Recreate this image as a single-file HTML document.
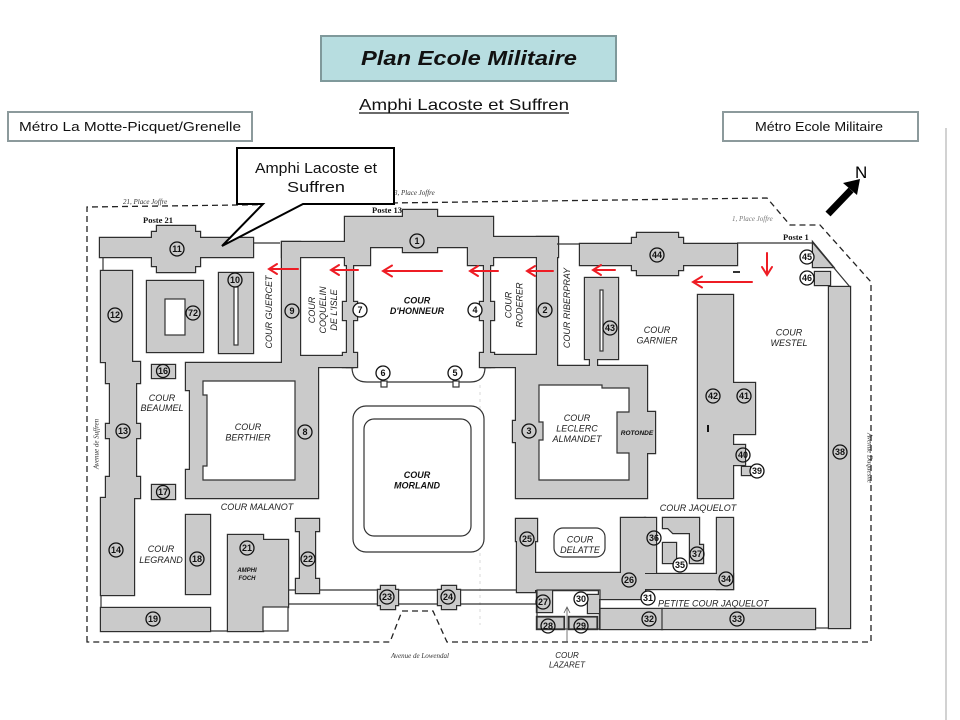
<!DOCTYPE html>
<html><head><meta charset="utf-8">
<style>
html,body{margin:0;padding:0;background:#fff;}
svg{display:block;}
.l{font-family:"Liberation Sans",sans-serif;font-style:italic;font-size:9px;fill:#1e1e1e;text-anchor:middle;}
.bi{font-family:"Liberation Sans",sans-serif;font-style:italic;font-weight:bold;font-size:9px;fill:#111;text-anchor:middle;}
.n{font-family:"Liberation Sans",sans-serif;font-weight:bold;font-size:9px;text-anchor:middle;fill:#111;}
.s{font-family:"Liberation Serif",serif;font-style:italic;font-size:7px;fill:#333;}
.p{font-family:"Liberation Serif",serif;font-weight:bold;font-size:8.5px;fill:#111;}
.ln{stroke:#333;stroke-width:1.2;fill:none;}
.ra{stroke:#ee1c24;stroke-width:2;fill:none;stroke-linecap:round;}
.c{fill:none;stroke:#111;stroke-width:1.3;}
.cw{fill:#fff;stroke:#111;stroke-width:1.3;}
</style></head><body>
<svg width="960" height="720" viewBox="0 0 960 720" xmlns="http://www.w3.org/2000/svg">
<rect width="960" height="720" fill="#fff"/>
<defs>
<g id="bl">
<polygon points="100,238 152,238 152,232 157,232 157,226 195,226 195,232 200,232 200,238 253,238 253,257 200,257 200,266 195,266 195,272 157,272 157,266 152,266 152,257 100,257"/>
<rect x="101" y="271" width="31" height="91"/>
<polygon points="106,362 140,362 140,383 136,383 136,424 140,424 140,438 136,438 136,477 140,477 140,498 106,498 106,477 110,477 110,438 106,438 106,424 110,424 110,383 106,383"/>
<rect x="101" y="498" width="33" height="97"/>
<rect x="101" y="608" width="109" height="23"/>
<rect x="147" y="281" width="56" height="71"/>
<rect x="219" y="273" width="34" height="80"/>
<rect x="152" y="365" width="23" height="13"/>
<rect x="152" y="485" width="23" height="14"/>
<rect x="186" y="515" width="24" height="79"/>
<rect x="228" y="535" width="35" height="96"/>
<rect x="263" y="540" width="25" height="67"/>
<polygon points="296,519 319,519 319,531 315,531 315,579 319,579 319,593 296,593 296,579 300,579 300,531 296,531"/>
<polygon points="381,586 395,586 395,590 398,590 398,605 395,605 395,609 381,609 381,605 378,605 378,590 381,590"/>
<polygon points="442,586 456,586 456,590 460,590 460,605 456,605 456,609 442,609 442,605 438,605 438,590 442,590"/>
<!-- Coquelin / 9 -->
<rect x="282" y="242" width="65" height="15"/>
<rect x="282" y="242" width="18" height="138"/>
<rect x="300" y="356" width="53" height="11"/>
<rect x="347" y="257" width="6" height="110"/>
<rect x="343" y="302" width="14" height="18"/>
<rect x="343" y="353" width="14" height="14"/>
<!-- Berthier -->
<polygon points="186,363 318,363 318,498 186,498 186,470 190,470 190,390 186,390"/>
<!-- Honneur top -->
<polygon points="345,217 403,217 403,210 437,210 437,217 493,217 493,265 468,265 468,247 437,247 437,252 403,252 403,247 370,247 370,265 345,265"/>
<rect x="484" y="265" width="6" height="102"/>
<rect x="480" y="302" width="14" height="18"/>
<rect x="480" y="353" width="14" height="14"/>
<!-- Roderer / 2 -->
<rect x="490" y="237" width="68" height="20"/>
<rect x="537" y="237" width="20" height="131"/>
<rect x="484" y="355" width="55" height="12"/>
<!-- Leclerc -->
<polygon points="516,366 647,366 647,412 655,412 655,453 647,453 647,498 516,498 516,442 513,442 513,421 516,421"/>
<rect x="585" y="278" width="33" height="81"/>
<rect x="590" y="358" width="7" height="9"/>
<!-- 44 -->
<polygon points="580,244 632,244 632,238 637,238 637,233 678,233 678,238 683,238 683,244 737,244 737,265 683,265 683,270 678,270 678,275 637,275 637,270 632,270 632,265 580,265"/>
<polygon points="813,243 813,267 833,267"/>
<rect x="815" y="272" width="15" height="13"/>
<rect x="698" y="295" width="35" height="203"/>
<rect x="733" y="383" width="22" height="51"/>
<rect x="733" y="445" width="12" height="20"/>
<rect x="742" y="467" width="8" height="8"/>
<rect x="829" y="287" width="21" height="341"/>
<!-- bottom right -->
<polygon points="516,519 537,519 537,541 535,541 535,573 621,573 621,518 645,518 645,590 535,590 535,592 517,592 517,541 516,541"/>
<rect x="645" y="518" width="11" height="55"/>
<polygon points="663,518 699,518 699,545 703,545 703,563 690,563 690,533 673,533 668,528 663,528"/>
<rect x="663" y="543" width="13" height="20"/>
<rect x="717" y="518" width="16" height="71"/>
<rect x="645" y="574" width="88" height="15"/>
<rect x="599" y="590" width="46" height="9"/>
<rect x="588" y="595" width="11" height="18"/>
<rect x="537" y="590" width="15" height="22"/>
<rect x="537" y="617" width="27" height="12"/>
<rect x="569" y="617" width="28" height="12"/>
<rect x="600" y="609" width="62" height="20"/>
<rect x="662" y="609" width="153" height="20"/>
</g>
</defs>

<!-- faint scan lines -->
<line x1="946" y1="128" x2="946" y2="720" stroke="#c4c4c4" stroke-width="1.5"/>
<line x1="480" y1="385" x2="480" y2="625" stroke="#d8d8d8" stroke-width="1" stroke-dasharray="3,4"/>

<!-- dashed boundary -->
<path d="M87,642 V207 L767,198 L790,225 H820 L871,282 V642 H447 L433,611 H402 L390,642 Z" fill="none" stroke="#222" stroke-width="1.3" stroke-dasharray="6,4"/>

<!-- buildings -->
<use href="#bl" fill="#2e2e2e" stroke="#2e2e2e" stroke-width="2.4"/>
<use href="#bl" fill="#cacaca" stroke="none"/>

<!-- holes -->
<rect x="165" y="299" width="20" height="36" fill="#fff" class="ln" style="fill:#fff"/>
<rect x="234" y="287" width="4" height="58" style="fill:#fff" class="ln"/>
<rect x="600" y="290" width="3" height="61" style="fill:#fff" class="ln"/>
<polygon points="203,381 295,381 295,480 203,480 203,466 207,466 207,395 203,395" style="fill:#fff" class="ln"/>
<polygon points="539,385 602,385 602,388 629,388 629,412 617,412 617,453 629,453 629,480 539,480 539,440 543,440 543,422 539,422" style="fill:#fff" class="ln"/>

<!-- lines -->
<line class="ln" x1="253" y1="243" x2="280" y2="243"/>
<line class="ln" x1="103" y1="257" x2="103" y2="271"/>
<line class="ln" x1="101" y1="595" x2="101" y2="608"/>
<line class="ln" x1="210" y1="631" x2="228" y2="631"/>
<rect class="ln" x="263" y="607" width="25" height="24" style="fill:#fff"/>
<path class="ln" d="M288,590 H296 M319,590 H378 M398,590 H438 M460,590 H517 M288,604 H378 M398,604 H438 M460,604 H537"/>
<path class="ln" d="M352,367 Q352,382 367,382 H470 Q485,382 485,367" stroke-width="1.4"/>
<rect x="381" y="381" width="6" height="6" class="ln" style="fill:#fff"/>
<rect x="453" y="381" width="6" height="6" class="ln" style="fill:#fff"/>
<line class="ln" x1="557" y1="244" x2="580" y2="244"/>
<path class="ln" d="M737,243 H813 L850,287"/>
<line class="ln" x1="815" y1="628" x2="829" y2="628"/>
<rect class="ln" x="537" y="590" width="63" height="39"/>
<rect class="ln" x="537" y="617" width="27" height="12"/>
<rect class="ln" x="569" y="617" width="28" height="12"/>
<line class="ln" x1="662" y1="609" x2="662" y2="629"/>
<rect x="707" y="425" width="2" height="7" fill="#111"/>
<rect x="733" y="271" width="7" height="2" fill="#333"/>

<!-- courtyards -->
<rect x="353" y="406" width="131" height="146" rx="13" style="fill:#fff" class="ln" stroke-width="1.3"/>
<rect x="364" y="419" width="107" height="117" rx="10" style="fill:#fff" class="ln" stroke-width="1.3"/>
<rect x="554" y="528" width="51" height="29" rx="9" style="fill:#fff" class="ln"/>

<!-- number circles -->
<g>
<circle class="c" cx="417" cy="241" r="7"/><text class="n" x="417" y="244.2">1</text>
<circle class="c" cx="545" cy="310" r="7"/><text class="n" x="545" y="313.2">2</text>
<circle class="c" cx="529" cy="431" r="7"/><text class="n" x="529" y="434.2">3</text>
<circle class="cw" cx="475" cy="310" r="7"/><text class="n" x="475" y="313.2">4</text>
<circle class="cw" cx="455" cy="373" r="7"/><text class="n" x="455" y="376.2">5</text>
<circle class="cw" cx="383" cy="373" r="7"/><text class="n" x="383" y="376.2">6</text>
<circle class="cw" cx="360" cy="310" r="7"/><text class="n" x="360" y="313.2">7</text>
<circle class="c" cx="305" cy="432" r="7"/><text class="n" x="305" y="435.2">8</text>
<circle class="c" cx="292" cy="311" r="7"/><text class="n" x="292" y="314.2">9</text>
<circle class="c" cx="235" cy="280" r="7"/><text class="n" x="235" y="283.2">10</text>
<circle class="c" cx="177" cy="249" r="7"/><text class="n" x="177" y="252.2">11</text>
<circle class="c" cx="115" cy="315" r="7"/><text class="n" x="115" y="318.2">12</text>
<circle class="c" cx="123" cy="431" r="7"/><text class="n" x="123" y="434.2">13</text>
<circle class="c" cx="116" cy="550" r="7"/><text class="n" x="116" y="553.2">14</text>
<circle class="c" cx="163" cy="371" r="6.5"/><text class="n" x="163" y="374.2">16</text>
<circle class="c" cx="163" cy="492" r="6.5"/><text class="n" x="163" y="495.2">17</text>
<circle class="c" cx="197" cy="559" r="7"/><text class="n" x="197" y="562.2">18</text>
<circle class="c" cx="153" cy="619" r="7"/><text class="n" x="153" y="622.2">19</text>
<circle class="c" cx="247" cy="548" r="7"/><text class="n" x="247" y="551.2">21</text>
<circle class="c" cx="308" cy="559" r="7"/><text class="n" x="308" y="562.2">22</text>
<circle class="c" cx="387" cy="597" r="7"/><text class="n" x="387" y="600.2">23</text>
<circle class="c" cx="448" cy="597" r="7"/><text class="n" x="448" y="600.2">24</text>
<circle class="c" cx="527" cy="539" r="7"/><text class="n" x="527" y="542.2">25</text>
<circle class="c" cx="629" cy="580" r="7"/><text class="n" x="629" y="583.2">26</text>
<circle class="c" cx="543" cy="602" r="7"/><text class="n" x="543" y="605.2">27</text>
<circle class="c" cx="548" cy="626" r="7"/><text class="n" x="548" y="629.2">28</text>
<circle class="c" cx="581" cy="626" r="7"/><text class="n" x="581" y="629.2">29</text>
<circle class="cw" cx="581" cy="599" r="7"/><text class="n" x="581" y="602.2">30</text>
<circle class="cw" cx="648" cy="598" r="7"/><text class="n" x="648" y="601.2">31</text>
<circle class="c" cx="649" cy="619" r="7"/><text class="n" x="649" y="622.2">32</text>
<circle class="c" cx="737" cy="619" r="7"/><text class="n" x="737" y="622.2">33</text>
<circle class="c" cx="726" cy="579" r="7"/><text class="n" x="726" y="582.2">34</text>
<circle class="cw" cx="680" cy="565" r="7"/><text class="n" x="680" y="568.2">35</text>
<circle class="c" cx="654" cy="538" r="7"/><text class="n" x="654" y="541.2">36</text>
<circle class="c" cx="697" cy="554" r="7"/><text class="n" x="697" y="557.2">37</text>
<circle class="c" cx="840" cy="452" r="7"/><text class="n" x="840" y="455.2">38</text>
<circle class="cw" cx="757" cy="471" r="7"/><text class="n" x="757" y="474.2">39</text>
<circle class="c" cx="743" cy="455" r="7"/><text class="n" x="743" y="458.2">40</text>
<circle class="c" cx="744" cy="396" r="7"/><text class="n" x="744" y="399.2">41</text>
<circle class="c" cx="713" cy="396" r="7"/><text class="n" x="713" y="399.2">42</text>
<circle class="c" cx="610" cy="328" r="7"/><text class="n" x="610" y="331.2">43</text>
<circle class="c" cx="657" cy="255" r="7"/><text class="n" x="657" y="258.2">44</text>
<circle class="cw" cx="807" cy="257" r="7"/><text class="n" x="807" y="260.2">45</text>
<circle class="cw" cx="807" cy="278" r="7"/><text class="n" x="807" y="281.2">46</text>
<circle class="c" cx="193" cy="313" r="7"/><text class="n" x="193" y="316.2">72</text>
</g>

<!-- map labels -->
<text class="l" transform="translate(272,312) rotate(-90)">COUR GUERCET</text>
<text class="l" transform="translate(315,310) rotate(-90)">COUR</text>
<text class="l" transform="translate(326,310) rotate(-90)">COQUELIN</text>
<text class="l" transform="translate(337,310) rotate(-90)">DE L'ISLE</text>
<text class="bi" x="417" y="303.5">COUR</text>
<text class="bi" x="417" y="314">D'HONNEUR</text>
<text class="l" transform="translate(511.5,305) rotate(-90)">COUR</text>
<text class="l" transform="translate(522.5,305) rotate(-90)">RODERER</text>
<text class="l" transform="translate(570,308) rotate(-90)">COUR RIBERPRAY</text>
<text class="l" x="657" y="333">COUR</text>
<text class="l" x="657" y="343.5">GARNIER</text>
<text class="l" x="789" y="335.5">COUR</text>
<text class="l" x="789" y="346">WESTEL</text>
<text class="l" x="162" y="401">COUR</text>
<text class="l" x="162" y="411">BEAUMEL</text>
<text class="l" x="248" y="430">COUR</text>
<text class="l" x="248" y="440.5">BERTHIER</text>
<text class="l" x="257" y="510">COUR MALANOT</text>
<text class="bi" x="417" y="478">COUR</text>
<text class="bi" x="417" y="488.5">MORLAND</text>
<text class="l" x="577" y="421">COUR</text>
<text class="l" x="577" y="431.5">LECLERC</text>
<text class="l" x="577" y="442">ALMANDET</text>
<text class="bi" x="637" y="435" style="font-size:6.5px">ROTONDE</text>
<text class="l" x="161" y="552">COUR</text>
<text class="l" x="161" y="563">LEGRAND</text>
<text class="bi" x="247" y="572" style="font-size:6px">AMPHI</text>
<text class="bi" x="247" y="580" style="font-size:6px">FOCH</text>
<text class="l" x="580" y="542.5">COUR</text>
<text class="l" x="580" y="553">DELATTE</text>
<text class="l" x="698" y="511">COUR JAQUELOT</text>
<text class="l" x="658" y="606.5" style="text-anchor:start">PETITE COUR JAQUELOT</text>
<text class="l" x="567" y="658" style="font-size:8px">COUR</text>
<text class="l" x="567" y="667.5" style="font-size:8px">LAZARET</text>
<line x1="567" y1="642" x2="567" y2="608" stroke="#555" stroke-width="0.8"/>
<path d="M564,613 L567,607 L570,613" stroke="#555" stroke-width="0.8" fill="none"/>

<text class="p" x="143" y="223">Poste 21</text>
<text class="p" x="372" y="213">Poste 13</text>
<text class="p" x="783" y="240">Poste 1</text>
<text class="s" x="123" y="204">21, Place Joffre</text>
<text class="s" x="394" y="195">3, Place Joffre</text>
<text class="s" x="732" y="221" style="fill:#777">1, Place Joffre</text>
<text class="s" transform="translate(98.5,444) rotate(-90)" text-anchor="middle">Avenue de Suffren</text>
<text class="s" transform="translate(867.5,458) rotate(90)" text-anchor="middle">Avenue Duquesne</text>
<text class="s" x="420" y="658" text-anchor="middle">Avenue de Lowendal</text>

<!-- red arrows -->
<g class="ra">
<path d="M298,269 H269 M277,264 L269,269 L277,274"/>
<path d="M358,270 H331 M339,265 L331,270 L339,275"/>
<path d="M442,271 H383 M392,265.5 L383,271 L392,276.5"/>
<path d="M498,271 H470 M478,266 L470,271 L478,276"/>
<path d="M553,271 H527 M535,266 L527,271 L535,276"/>
<path d="M615,270 H593 M601,265 L593,270 L601,275"/>
<path d="M752,282 H693 M702,276.5 L693,282 L702,287.5"/>
<path d="M767,253 V275 M762,267 L767,275 L772,267"/>
</g>

<!-- North arrow -->
<line x1="828" y1="214" x2="851" y2="190" stroke="#000" stroke-width="7"/>
<polygon points="860,179 857,195 843,183" fill="#000"/>
<text x="855" y="178" style="font-family:'Liberation Sans',sans-serif;font-size:17px;fill:#000">N</text>

<!-- callout -->
<path d="M237,148 H394 V204 H303 L222,246 L263,204 H237 Z" fill="#fff" stroke="#000" stroke-width="2" stroke-linejoin="miter"/>
<text x="316" y="173" text-anchor="middle" textLength="122" lengthAdjust="spacingAndGlyphs" style="font-family:'Liberation Sans',sans-serif;font-size:15px;fill:#111">Amphi Lacoste et</text>
<text x="316" y="192" text-anchor="middle" textLength="58" lengthAdjust="spacingAndGlyphs" style="font-family:'Liberation Sans',sans-serif;font-size:15px;fill:#111">Suffren</text>

<!-- header -->
<rect x="321" y="36" width="295" height="45" fill="#b7dde0" stroke="#7f999b" stroke-width="2"/>
<text x="469" y="65" text-anchor="middle" textLength="216" lengthAdjust="spacingAndGlyphs" style="font-family:'Liberation Sans',sans-serif;font-style:italic;font-weight:bold;font-size:20px;fill:#111">Plan Ecole Militaire</text>
<text x="464" y="110" text-anchor="middle" textLength="210" lengthAdjust="spacingAndGlyphs" style="font-family:'Liberation Sans',sans-serif;font-size:16px;fill:#111">Amphi Lacoste et Suffren</text>
<line x1="359" y1="113" x2="569" y2="113" stroke="#111" stroke-width="1.2"/>

<rect x="8" y="112" width="244" height="29" fill="#fff" stroke="#8c9a9c" stroke-width="2"/>
<text x="130" y="131" text-anchor="middle" textLength="222" lengthAdjust="spacingAndGlyphs" style="font-family:'Liberation Sans',sans-serif;font-size:13px;fill:#111">Métro La Motte-Picquet/Grenelle</text>
<rect x="723" y="112" width="195" height="29" fill="#fff" stroke="#8c9a9c" stroke-width="2"/>
<text x="819" y="131" text-anchor="middle" textLength="128" lengthAdjust="spacingAndGlyphs" style="font-family:'Liberation Sans',sans-serif;font-size:13px;fill:#111">Métro Ecole Militaire</text>
</svg>
</body></html>
